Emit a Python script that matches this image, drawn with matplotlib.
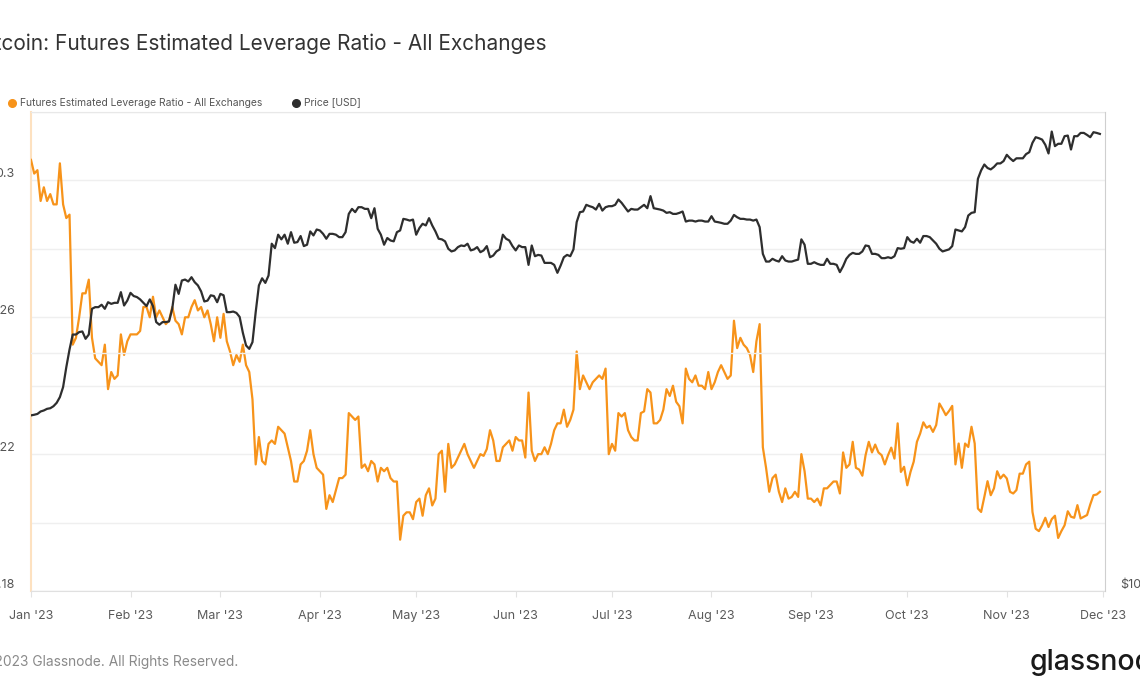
import numpy as np
import pandas as pd
import matplotlib
matplotlib.use('Agg')
import matplotlib.pyplot as plt
import matplotlib.dates as mdates
from matplotlib.ticker import FixedLocator, NullLocator

plt.rcParams['font.family'] = ['Inter', 'DejaVu Sans']

# daily values, starting 2023-01-01
start_date = '2023-01-01'
leverage = [
    0.306, 0.302, 0.303, 0.294, 0.298, 0.294, 0.296, 0.293, 0.293, 0.305,
    0.293, 0.289, 0.290, 0.252, 0.254, 0.260, 0.267, 0.267, 0.271, 0.254,
    0.248, 0.247, 0.246, 0.252, 0.239, 0.244, 0.242, 0.243, 0.255, 0.249,
    0.253, 0.255, 0.255, 0.255, 0.256, 0.263, 0.263, 0.260, 0.266, 0.260,
    0.262, 0.260, 0.258, 0.259, 0.263, 0.259, 0.258, 0.255, 0.260, 0.260,
    0.263, 0.265, 0.262, 0.263, 0.260, 0.262, 0.258, 0.253, 0.260, 0.254,
    0.261, 0.253, 0.250, 0.246, 0.249, 0.247, 0.252, 0.246, 0.244, 0.236,
    0.217, 0.225, 0.218, 0.217, 0.223, 0.224, 0.223, 0.228, 0.227, 0.226,
    0.222, 0.218, 0.212, 0.212, 0.217, 0.218, 0.221, 0.227, 0.220, 0.216,
    0.215, 0.214, 0.204, 0.208, 0.206, 0.2095, 0.213, 0.213, 0.214, 0.232,
    0.231, 0.230, 0.231, 0.216, 0.217, 0.215, 0.218, 0.217, 0.212, 0.216,
    0.215, 0.216, 0.213, 0.212, 0.212, 0.195, 0.202, 0.203, 0.203, 0.201,
    0.206, 0.207, 0.202, 0.208, 0.210, 0.205, 0.207, 0.220, 0.221, 0.209,
    0.223, 0.216, 0.217, 0.219, 0.221, 0.223, 0.220, 0.218, 0.216, 0.218,
    0.220, 0.2195, 0.2215, 0.227, 0.224, 0.218, 0.218, 0.222, 0.223, 0.224,
    0.221, 0.225, 0.224, 0.224, 0.219, 0.238, 0.221, 0.218, 0.220, 0.220,
    0.222, 0.220, 0.223, 0.227, 0.229, 0.229, 0.233, 0.228, 0.230, 0.233,
    0.250, 0.239, 0.243, 0.241, 0.239, 0.241, 0.242, 0.243, 0.242, 0.245,
    0.220, 0.223, 0.221, 0.232, 0.231, 0.232, 0.227, 0.225, 0.224, 0.224,
    0.232, 0.2325, 0.239, 0.238, 0.229, 0.229, 0.230, 0.233, 0.239, 0.237,
    0.240, 0.2353, 0.234, 0.229, 0.245, 0.242, 0.241, 0.243, 0.240, 0.240,
    0.239, 0.244, 0.239, 0.241, 0.244, 0.246, 0.244, 0.242, 0.243, 0.259,
    0.251, 0.254, 0.252, 0.251, 0.249, 0.244, 0.253, 0.258, 0.222, 0.216,
    0.209, 0.213, 0.214, 0.209, 0.206, 0.210, 0.207, 0.2075, 0.209, 0.2075,
    0.220, 0.215, 0.207, 0.207, 0.206, 0.207, 0.205, 0.210, 0.210, 0.211,
    0.212, 0.212, 0.2085, 0.2205, 0.216, 0.217, 0.2236, 0.216, 0.2155, 0.2137,
    0.2197, 0.2236, 0.2205, 0.2228, 0.2205, 0.2197, 0.217, 0.2197, 0.2219, 0.2187,
    0.229, 0.2148, 0.2163, 0.2109, 0.2148, 0.2178, 0.2236, 0.226, 0.2293, 0.2277,
    0.2283, 0.2265, 0.2285, 0.2348, 0.2332, 0.2314, 0.2326, 0.2341, 0.217, 0.2231,
    0.216, 0.2231, 0.2221, 0.228, 0.2231, 0.2041, 0.2031, 0.2075, 0.2121, 0.208,
    0.210, 0.215, 0.2129, 0.214, 0.2129, 0.209, 0.2085, 0.2095, 0.2143, 0.2143,
    0.217, 0.2178, 0.2031, 0.1982, 0.1975, 0.1992, 0.2014, 0.1987, 0.201, 0.202,
    0.1955, 0.1975, 0.1992, 0.2033, 0.2017, 0.2014, 0.2051, 0.2012, 0.2017, 0.2022,
    0.2053, 0.208, 0.2082, 0.209,
]
# price in thousands of USD
price_k = [
    16.67, 16.70, 16.74, 16.86, 16.91, 16.99, 17.02, 17.12, 17.29, 17.58,
    18.10, 19.18, 20.19, 21.09, 21.09, 21.24, 21.28, 20.83, 21.09, 22.73,
    22.84, 22.84, 23.00, 22.73, 23.17, 23.06, 23.13, 23.13, 23.86, 22.95,
    23.28, 23.81, 23.59, 23.52, 23.36, 23.13, 22.91, 23.36, 22.91, 21.87,
    21.70, 21.87, 21.87, 21.91, 22.73, 24.38, 23.74, 24.68, 24.75, 24.61,
    24.92, 24.56, 24.33, 23.91, 23.22, 23.28, 23.64, 23.59, 23.17, 23.74,
    23.64, 22.51, 22.51, 22.55, 22.46, 22.20, 21.20, 20.43, 20.23, 20.63,
    22.51, 24.33, 24.84, 24.51, 25.04, 27.47, 27.12, 28.20, 27.82, 28.20,
    27.47, 28.41, 27.55, 27.60, 28.09, 27.28, 27.39, 28.47, 28.14, 28.63,
    28.55, 28.27, 27.87, 28.27, 28.27, 28.20, 28.00, 28.00, 28.41, 29.96,
    30.40, 30.11, 30.55, 30.55, 30.40, 30.40, 29.59, 30.46, 28.69, 28.20,
    27.39, 27.93, 27.73, 27.66, 28.41, 28.55, 29.53, 29.47, 29.38, 29.47,
    28.20, 28.75, 29.11, 28.97, 29.59, 28.97, 28.47, 27.87, 27.82, 27.66,
    27.07, 26.86, 26.94, 27.20, 27.33, 27.28, 27.47, 26.94, 27.02, 27.20,
    26.80, 26.94, 27.28, 26.41, 26.54, 26.86, 27.02, 28.20, 27.87, 27.73,
    27.28, 26.94, 27.33, 27.20, 27.20, 25.83, 27.33, 26.49, 26.59, 26.54,
    25.98, 25.98, 25.98, 25.83, 25.24, 25.78, 26.41, 26.59, 26.49, 27.02,
    29.25, 30.11, 30.17, 30.76, 30.64, 30.55, 30.34, 30.85, 30.25, 30.55,
    30.64, 30.64, 30.76, 31.24, 30.94, 30.55, 30.17, 30.40, 30.34, 30.34,
    30.55, 30.76, 30.46, 31.55, 30.46, 30.40, 30.34, 30.25, 30.05, 30.11,
    29.96, 29.96, 30.05, 30.17, 29.30, 29.38, 29.38, 29.30, 29.38, 29.38,
    29.30, 29.30, 29.76, 29.30, 29.25, 29.19, 29.11, 29.11, 29.38, 29.87,
    29.67, 29.53, 29.53, 29.47, 29.47, 29.38, 29.47, 28.83, 26.67, 26.08,
    26.08, 26.29, 26.16, 26.08, 26.49, 26.16, 26.08, 26.08, 26.16, 26.23,
    27.82, 27.39, 25.91, 25.91, 26.03, 25.91, 25.83, 25.83, 26.29, 25.91,
    25.91, 25.83, 25.29, 25.73, 26.29, 26.59, 26.75, 26.67, 26.67, 26.86,
    27.33, 27.28, 26.67, 26.67, 26.59, 26.34, 26.34, 26.41, 26.34, 26.49,
    27.12, 27.07, 27.12, 28.00, 27.66, 27.55, 27.87, 27.55, 28.09, 28.09,
    28.00, 27.73, 27.47, 27.07, 26.86, 26.94, 27.02, 27.28, 28.63, 28.55,
    28.47, 28.83, 29.82, 30.05, 30.11, 33.18, 34.00, 34.59, 34.24, 34.10,
    34.35, 34.70, 34.70, 34.94, 35.58, 35.22, 34.94, 35.22, 35.22, 35.22,
    35.65, 35.85, 36.85, 37.45, 37.34, 37.19, 36.63, 35.72, 38.07, 36.49,
    36.74, 36.74, 37.56, 37.63, 36.13, 37.56, 37.56, 37.92, 37.92, 37.70,
    37.45, 38.00, 37.92, 37.81,
]
left_ticks = [0.18, 0.20, 0.22, 0.24, 0.26, 0.28, 0.30, 0.32]
left_labels = {0.18: '0.18', 0.22: '0.22', 0.26: '0.26', 0.30: '0.3'}
right_ticks = [10, 20]

title = 'Bitcoin: Futures Estimated Leverage Ratio - All Exchanges'
lev_name = 'Futures Estimated Leverage Ratio - All Exchanges'
price_name = 'Price [USD]'

orange = '#f7931a'
dark = '#2e2e2e'

dates = pd.date_range(start_date, periods=len(leverage), freq='D')

W, H = 1140, 694
fig = plt.figure(figsize=(W / 100, H / 100), dpi=100)
ax = fig.add_axes([31 / W, 1 - 591 / H, (1104.7 - 31) / W, (591 - 112) / H])

ax.plot(dates, leverage, color=orange, lw=1.6, solid_joinstyle='round', zorder=3)
ax.set_ylim(0.18, 0.32)
ax.set_xlim(pd.Timestamp('2023-01-01'), pd.Timestamp('2023-12-01 12:00'))
ax.yaxis.set_major_locator(FixedLocator(left_ticks))
ax.grid(axis='y', color='#efefef', lw=1)
ax.set_axisbelow(True)
ax.tick_params(axis='y', length=0, labelleft=False)

ax.xaxis.set_major_locator(mdates.MonthLocator())
ax.xaxis.set_major_formatter(mdates.DateFormatter("%b '%y"))
ax.tick_params(axis='x', length=4, color='#e2e2e2', pad=9.5, labelsize=9,
               labelcolor='#5a5a5a')

for v, lab in left_labels.items():
    ax.annotate(lab, xy=(0, v), xycoords=('axes fraction', 'data'),
                xytext=(-16, 6), textcoords='offset pixels', ha='right',
                va='center', fontsize=9, color='#555555', annotation_clip=False)

ax.spines['left'].set_color('#fde1c0')
ax.spines['left'].set_linewidth(1.5)
ax.spines['top'].set_color('#e8e8e8')
ax.spines['bottom'].set_color('#e0e0e0')
ax.spines['right'].set_visible(False)

# price on log scale, right axis
ax2 = ax.twinx()
ax2.plot(dates, price_k, color=dark, lw=1.6, solid_joinstyle='round', zorder=3)
ax2.set_yscale('log')
ax2.set_ylim(10, 40.3)
ax2.yaxis.set_major_locator(FixedLocator(right_ticks))
ax2.yaxis.set_minor_locator(NullLocator())
ax2.grid(axis='y', color='#efefef', lw=1)
ax2.set_axisbelow(True)
ax2.tick_params(axis='y', length=0, labelright=False)
ax2.annotate('$10k', xy=(1, 10), xycoords=('axes fraction', 'data'),
             xytext=(15, 6), textcoords='offset pixels', ha='left',
             va='center', fontsize=9, color='#555555', annotation_clip=False)
for s in ['left', 'top', 'bottom']:
    ax2.spines[s].set_visible(False)
ax2.spines['right'].set_color('#cfcfcf')

# title, legend, footer
fig.text(547 / W, 1 - 44 / H, title, ha='right', va='center', fontsize=15,
         color='#333333')
fig.text(20 / W, 1 - 102.5 / H, lev_name, ha='left', va='center',
         fontsize=7.45, color='#555555')
fig.text(304 / W, 1 - 102.5 / H, price_name, ha='left', va='center',
         fontsize=7.45, color='#555555')
fig.lines.append(plt.Line2D([12 / W], [1 - 102.5 / H], marker='o', ms=5.5,
                            color=orange, transform=fig.transFigure))
fig.lines.append(plt.Line2D([296 / W], [1 - 102.5 / H], marker='o', ms=5.5,
                            color=dark, transform=fig.transFigure))

fig.text(238 / W, 1 - 662 / H, '\u00a9 2023 Glassnode. All Rights Reserved.',
         ha='right', va='center', fontsize=9.9, color='#8a8a8a')
fig.text(1030 / W, 1 - 662 / H, 'glassnode', ha='left', va='center',
         fontsize=20.5, fontweight='medium', color='#1a1a1a')

fig.savefig('out.png', dpi=100)
